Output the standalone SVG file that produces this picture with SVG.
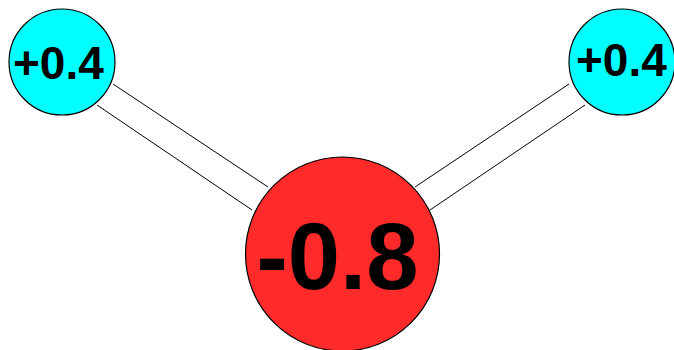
<svg xmlns="http://www.w3.org/2000/svg" width="674" height="350" viewBox="0 0 674 350">
<style>
.atom{stroke:#000;stroke-width:1.2}
.h{fill:#0ff}
.o{fill:#ff2a2a}
.bond{stroke:#000;stroke-width:1;fill:none}
text{font-family:"Liberation Sans",Arial,sans-serif;font-weight:700;fill:#000}
.s{font-size:46px}
.l{font-size:94px;text-anchor:middle}
</style>
<rect width="674" height="350" fill="#fff"/>
<g id="connectors">
<line class="bond" x1="113" y1="84" x2="268" y2="187"/>
<line class="bond" x1="97" y1="105" x2="252" y2="210"/>
<line class="bond" x1="569" y1="84" x2="415" y2="187"/>
<line class="bond" x1="585" y1="105" x2="430" y2="210"/>
</g>
<g id="atom-h-left">
<circle class="atom h" cx="62" cy="62" r="53"/>
<text class="s" x="13" y="79">+0.4</text>
</g>
<g id="atom-h-right">
<circle class="atom h" cx="622" cy="62" r="53"/>
<text class="s" x="576" y="76">+0.4</text>
</g>
<g id="atom-o">
<circle class="atom o" cx="342.5" cy="254" r="97"/>
<text class="l" x="337.5" y="289">-0.8</text>
</g>
</svg>
